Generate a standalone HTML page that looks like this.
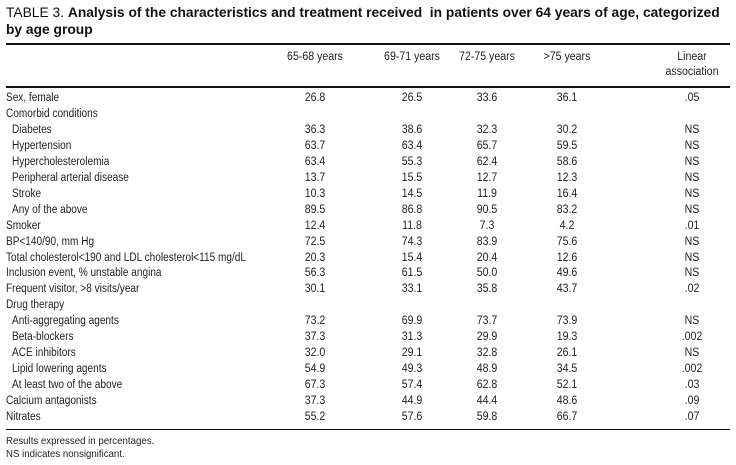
<!DOCTYPE html>
<html><head><meta charset="utf-8"><style>
body{margin:0;background:#fff;width:736px;height:465px;position:relative;overflow:hidden;font-family:"Liberation Sans",sans-serif;color:#222}
.t{position:absolute;left:6px;font-family:"Liberation Sans",sans-serif;font-size:13.8px;color:#111;white-space:nowrap}
.rule{position:absolute;left:6px;width:724px;background:#111}
.h,.r div,.f{position:absolute;white-space:nowrap;font-size:11.5px}
.h{text-align:center;width:80px;margin-left:-40px;line-height:15px;transform:scaleX(0.92)}
.r{position:absolute;left:0;width:736px;height:16px}
.r div{top:0;line-height:16px}
.r .l{left:6px;transform:scaleX(0.875);transform-origin:0 0}.r .l.i{left:12px}
.r .c{width:60px;margin-left:-30px;text-align:center;transform:scaleX(0.92)}
.f{transform:scaleX(0.92);transform-origin:0 0}
</style></head><body>
<div class="t" style="top:5px">TABLE 3. <b>Analysis of the characteristics and treatment received&nbsp; in patients over 64 years of age, categorized</b></div>
<div class="t" style="top:22px"><b>by age group</b></div>
<div class="rule" style="top:43px;height:2px"></div>
<div class="h" style="left:315px;top:50px">65-68 years</div>
<div class="h" style="left:412px;top:50px">69-71 years</div>
<div class="h" style="left:487px;top:50px">72-75 years</div>
<div class="h" style="left:567px;top:50px">&gt;75 years</div>
<div class="h" style="left:692px;top:50px">Linear<br>association</div>
<div class="rule" style="top:86px;height:2px"></div>
<div id="rows"></div>
<div class="rule" style="top:429px;height:1px"></div>
<div class="f" style="left:6px;top:435px;font-size:10.5px">Results expressed in percentages.</div>
<div class="f" style="left:6px;top:448px;font-size:10.5px">NS indicates nonsignificant.</div>
<script>
const labels=["Sex, female","Comorbid conditions","Diabetes","Hypertension","Hypercholesterolemia","Peripheral arterial disease","Stroke","Any of the above","Smoker","BP<140/90, mm Hg","Total cholesterol<190 and LDL cholesterol<115 mg/dL","Inclusion event, % unstable angina","Frequent visitor, >8 visits/year","Drug therapy","Anti-aggregating agents","Beta-blockers","ACE inhibitors","Lipid lowering agents","At least two of the above","Calcium antagonists","Nitrates"];
const indented=[0,0,1,1,1,1,1,1,0,0,0,0,0,0,1,1,1,1,1,0,0];
const col1=["26.8","","36.3","63.7","63.4","13.7","10.3","89.5","12.4","72.5","20.3","56.3","30.1","","73.2","37.3","32.0","54.9","67.3","37.3","55.2"];
const col2=["26.5","","38.6","63.4","55.3","15.5","14.5","86.8","11.8","74.3","15.4","61.5","33.1","","69.9","31.3","29.1","49.3","57.4","44.9","57.6"];
const col3=["33.6","","32.3","65.7","62.4","12.7","11.9","90.5","7.3","83.9","20.4","50.0","35.8","","73.7","29.9","32.8","48.9","62.8","44.4","59.8"];
const col4=["36.1","","30.2","59.5","58.6","12.3","16.4","83.2","4.2","75.6","12.6","49.6","43.7","","73.9","19.3","26.1","34.5","52.1","48.6","66.7"];
const assoc=[".05","","NS","NS","NS","NS","NS","NS",".01","NS","NS","NS",".02","","NS",".002","NS",".002",".03",".09",".07"];
const colX=[315,412,487,567,692];
const container=document.getElementById('rows');
labels.forEach((lab,i)=>{
  const row=document.createElement('div');
  row.className='r';
  row.style.top=(90+i*15.95)+'px';
  
  
  const l=document.createElement('div');
  l.className='l'+(indented[i]?' i':'');
  l.textContent=lab;
  
  
  row.appendChild(l);
  [col1[i],col2[i],col3[i],col4[i],assoc[i]].forEach((v,j)=>{
    if(!v)return;
    const c=document.createElement('div');
    c.className='c';
    c.style.left=colX[j]+'px';
    c.textContent=v;
    
    
    row.appendChild(c);
  });
  container.appendChild(row);
});
</script>
</body></html>
